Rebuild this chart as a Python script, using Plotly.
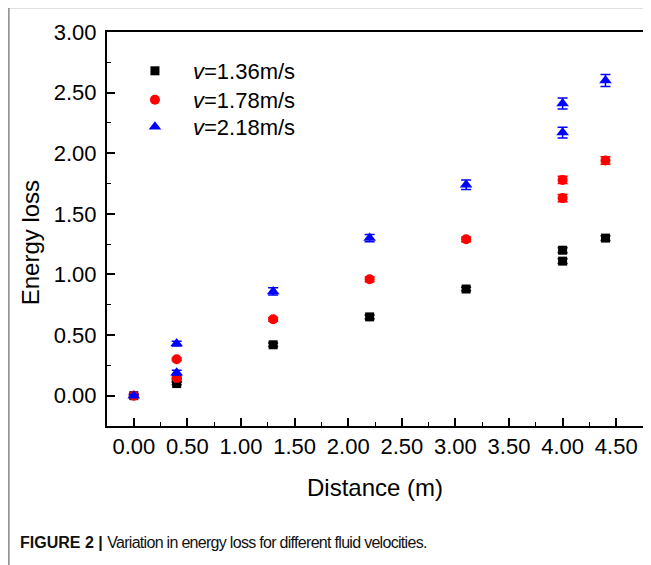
import plotly.graph_objects as go

# Data
dist = [0.0, 0.4, 0.4, 1.3, 2.2, 3.1, 4.0, 4.0, 4.4]
loss_136 = [0.00, 0.10, 0.13, 0.42, 0.65, 0.88, 1.20, 1.11, 1.30]
loss_178 = [0.00, 0.145, 0.30, 0.63, 0.96, 1.29, 1.78, 1.63, 1.94]
loss_218 = [0.00, 0.19, 0.43, 0.86, 1.30, 1.74, 2.41, 2.17, 2.60]
err_136 = [0.01, 0.01, 0.01, 0.015, 0.015, 0.015, 0.02, 0.02, 0.02]
err_178 = [0.01, 0.01, 0.01, 0.015, 0.02, 0.02, 0.03, 0.03, 0.03]
err_218 = [0.01, 0.02, 0.02, 0.03, 0.03, 0.04, 0.045, 0.045, 0.05]
series_names = ["<i>v</i>=1.36m/s", "<i>v</i>=1.78m/s", "<i>v</i>=2.18m/s"]
x_ticks = [0.0, 0.5, 1.0, 1.5, 2.0, 2.5, 3.0, 3.5, 4.0, 4.5]
y_ticks = [0.0, 0.5, 1.0, 1.5, 2.0, 2.5, 3.0]

FONT = "Liberation Sans, Arial, sans-serif"

# page body has an 8px margin; work in page coordinates and compensate
OFF = 8
PAGE_W, PAGE_H = 651, 565
W, H = PAGE_W - OFF, PAGE_H - OFF
PL, PR, PT, PB = 107, 645, 32, 426   # plot box in page pixels
L, R, T, B = PL - OFF, PAGE_W - PR, PT - OFF, PAGE_H - PB
pw, ph = PR - PL, PB - PT

def px(x):
    return (x - PL) / pw

def py(y):
    return (PB - y) / ph

fig = go.Figure()
styles = [("#000000", "square", 9), ("#ff0000", "circle", 10), ("#0000ff", "triangle-up", 11)]
legend_ids = ["legend", "legend2", "legend3"]
for name, ys, es, (col, sym, sz), lg in zip(series_names, [loss_136, loss_178, loss_218],
                                            [err_136, err_178, err_218], styles, legend_ids):
    fig.add_trace(go.Scatter(
        x=dist, y=ys, mode="markers", name=name, legend=lg,
        marker=dict(color=col, symbol=sym, size=sz, line=dict(width=0)),
        error_y=dict(type="data", array=es, visible=True, color=col, thickness=1.5, width=5),
    ))

legend_rows = [71, 100, 127]
legend_common = dict(xanchor="left", yanchor="top", bgcolor="rgba(0,0,0,0)",
                     font=dict(size=22, family=FONT), itemwidth=66)
axis_common = dict(tickformat=".2f", ticks="inside", ticklen=8, tickwidth=1.5, tickcolor="black",
                   showline=True, linecolor="black", linewidth=2, mirror=True,
                   showgrid=False, zeroline=False, tickfont=dict(size=22, family=FONT))

caption = ("<b>FIGURE 2 |</b> <span style='letter-spacing:-0.7px'>"
           "Variation in energy loss for different fluid velocities.</span>")

fig.update_layout(
    width=W, height=H,
    margin=dict(l=L, r=R, t=T, b=B),
    paper_bgcolor="white", plot_bgcolor="white",
    font=dict(family=FONT, size=22, color="black"),
    showlegend=True,
    legend=dict(x=px(117), y=py(legend_rows[0] - 21), **legend_common),
    legend2=dict(x=px(117), y=py(legend_rows[1] - 21), **legend_common),
    legend3=dict(x=px(117), y=py(legend_rows[2] - 21), **legend_common),
    xaxis=dict(range=[-0.25, 4.75], tickvals=x_ticks, ticklabelstandoff=0,
               minor=dict(ticks="inside", ticklen=4, dtick=0.25, tick0=0, tickcolor="black", tickwidth=1.2),
               **axis_common),
    yaxis=dict(range=[-0.25, 3.0], tickvals=y_ticks, ticklabelstandoff=4,
               minor=dict(ticks="inside", ticklen=4, dtick=0.25, tick0=0, tickcolor="black", tickwidth=1.2),
               **axis_common),
    annotations=[
        dict(text="Distance (m)", x=px(376), y=py(487), xref="paper", yref="paper",
             showarrow=False, xanchor="center", yanchor="middle", font=dict(size=24, family=FONT)),
        dict(text="Energy loss", x=px(30), y=py(243), xref="paper", yref="paper", textangle=-90,
             showarrow=False, xanchor="center", yanchor="middle", font=dict(size=24, family=FONT)),
        dict(text=caption,
             x=px(18), y=py(542), xref="paper", yref="paper", showarrow=False,
             xanchor="left", yanchor="middle",
             font=dict(size=16, family="Liberation Sans Narrow, Arial Narrow, sans-serif", color="#111111")),
    ],
    shapes=[
        dict(type="line", xref="paper", yref="paper", x0=px(8.5), x1=px(651), y0=py(7.5), y1=py(7.5),
             line=dict(color="#888888", width=1.5)),
        dict(type="line", xref="paper", yref="paper", x0=px(8.5), x1=px(8.5), y0=py(7.5), y1=py(565),
             line=dict(color="#888888", width=1.5)),
    ],
)

fig.write_html("out.html")
